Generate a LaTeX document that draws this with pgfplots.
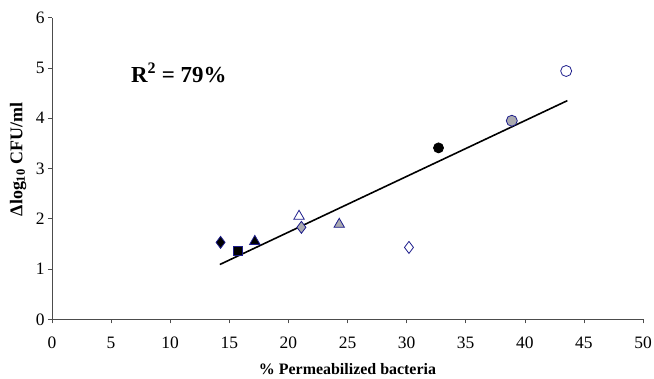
\documentclass[border=0pt]{standalone}
\usepackage{pgfplots}
\pgfplotsset{compat=1.18}
\usepackage{fontspec}
\setmainfont{Liberation Serif}
\definecolor{navy}{RGB}{30,30,140}
\definecolor{mgray}{RGB}{170,170,175}
\begin{document}
\begin{tikzpicture}
\path[use as bounding box] (-52bp,-59.7bp) rectangle (602bp,319.3bp);
\begin{axis}[
  at={(0,0)}, anchor=south west,
  scale only axis, width=591bp, height=301.6bp,
  xmin=0, xmax=50, ymin=0, ymax=6,
  axis x line*=bottom, axis y line*=left,
  axis line style={black!70, line width=0.6pt},
  xtick={0,5,...,50}, ytick={0,1,...,6},
  tick align=outside, major tick length=4bp,
  tick style={black!70, line width=0.6pt},
  /pgf/number format/assume math mode=true,
  ticklabel style={font=\fontsize{17.5}{17}\selectfont},
  xticklabel style={yshift=-10bp},
  yticklabel style={xshift=0bp},
  xlabel={\textbf{\% Permeabilized bacteria}},
  ylabel={\textbf{Δlog\textsubscript{10} CFU/ml}},
  xlabel style={font=\fontsize{16}{16}\selectfont, at={(axis description cs:0.5,0)}, anchor=center, yshift=-50bp},
  ylabel style={font=\fontsize{18}{18}\selectfont, at={(axis description cs:-0.0575,0.53)}, anchor=center, rotate=0},
  clip=false,
]
\addplot[black, line width=1.6pt] coordinates {(14.2,1.09) (43.6,4.35)};
% filled black
\addplot[only marks, mark=diamond*, mark size=6bp, mark options={fill=black, draw=navy, line width=0.8pt}] coordinates {(14.26,1.53)};
\addplot[only marks, mark=square*, mark size=4.5bp, mark options={fill=black, draw=navy, line width=0.8pt}] coordinates {(15.75,1.37)};
\addplot[only marks, mark=triangle*, mark size=6bp, mark options={fill=black, draw=navy, line width=0.8pt}] coordinates {(17.16,1.55)};
\addplot[only marks, mark=*, mark size=5bp, mark options={fill=black, draw=black, line width=0.8pt}] coordinates {(32.7,3.41)};
% gray
\addplot[only marks, mark=triangle*, mark size=6bp, mark options={fill=mgray, draw=navy, line width=0.8pt}] coordinates {(24.3,1.89)};
\addplot[only marks, mark=diamond*, mark size=6bp, mark options={fill=mgray, draw=navy, line width=0.8pt}] coordinates {(21.1,1.83)};
\addplot[only marks, mark=*, mark size=5.5bp, mark options={fill=mgray, draw=navy, line width=0.8pt}] coordinates {(38.9,3.95)};
% open
\addplot[only marks, mark=triangle*, mark size=6bp, mark options={fill=white, draw=navy, line width=0.8pt}] coordinates {(20.9,2.05)};
\addplot[only marks, mark=diamond*, mark size=6bp, mark options={fill=white, draw=navy, line width=0.8pt}] coordinates {(30.2,1.43)};
\addplot[only marks, mark=*, mark size=5.5bp, mark options={fill=white, draw=navy, line width=0.8pt}] coordinates {(43.5,4.94)};
\node[anchor=west, font=\fontsize{23}{23}\selectfont\bfseries] at (axis cs:6.4,4.9) {R\textsuperscript{2} = 79\%};
\end{axis}
\end{tikzpicture}
\end{document}
